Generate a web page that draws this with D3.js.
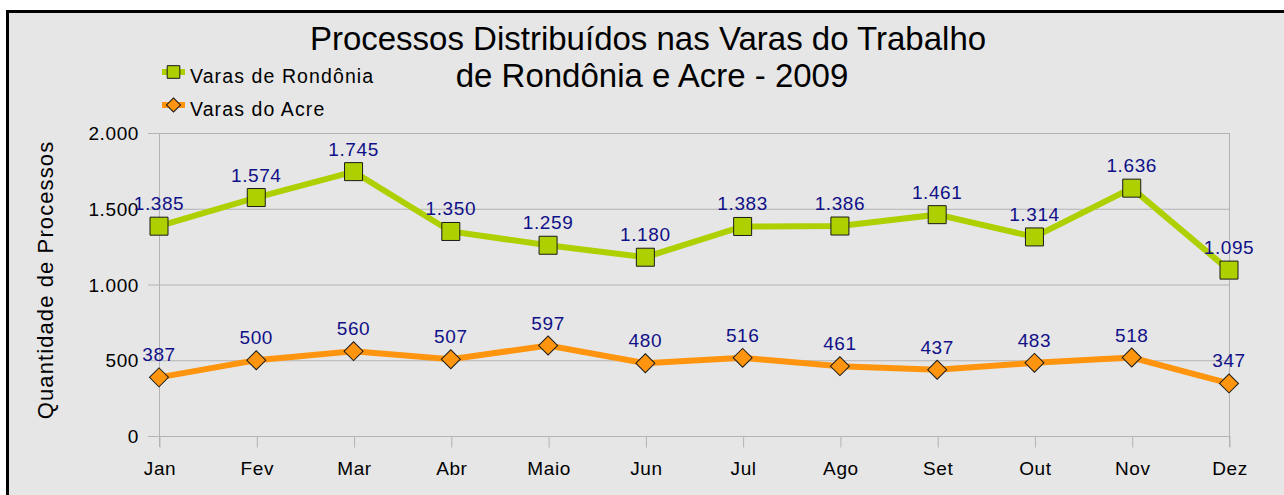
<!DOCTYPE html>
<html>
<head>
<meta charset="utf-8">
<script src="https://cdn.jsdelivr.net/npm/d3@7"></script>
<style>
  body { margin: 0; background: #fff; }
  text { font-family: "Liberation Sans", Arial, sans-serif; }
</style>
</head>
<body>
<div id="chart"></div>
<script>
const months = ["Jan", "Fev", "Mar", "Abr", "Maio", "Jun", "Jul", "Ago", "Set", "Out", "Nov", "Dez"];
const rondonia = [1385, 1574, 1745, 1350, 1259, 1180, 1383, 1386, 1461, 1314, 1636, 1095];
const acre = [387, 500, 560, 507, 597, 480, 516, 461, 437, 483, 518, 347];
const yTicks = [0, 500, 1000, 1500, 2000];
const seriesNames = ["Varas de Rondônia", "Varas do Acre"];

const width = 1284, height = 495;
const fmt = d3.formatLocale({ decimal: ",", thousands: ".", grouping: [3] }).format(",d");

const svg = d3.select("#chart").append("svg")
    .attr("width", width)
    .attr("height", height);

// chart background + frame (only top / left edge visible)
svg.append("rect")
    .attr("x", 7.5).attr("y", 11.5)
    .attr("width", width + 10).attr("height", height + 10)
    .attr("fill", "#e6e6e6")
    .attr("stroke", "#000")
    .attr("stroke-width", 3);

const x = d3.scalePoint().domain(months).range([159, 1229]);
const y = d3.scaleLinear().domain([0, 2000]).range([436, 133]);

// gridlines
svg.append("g")
    .selectAll("line")
    .data(yTicks)
    .enter().append("line")
    .attr("x1", 148).attr("x2", 1229)
    .attr("y1", d => y(d) + 0.5).attr("y2", d => y(d) + 0.5)
    .attr("stroke", "#b3b3b3");

// y axis labels
svg.append("g")
    .selectAll("text")
    .data(yTicks)
    .enter().append("text")
    .attr("x", 139)
    .attr("y", d => y(d) + 7)
    .attr("text-anchor", "end")
    .style("font-size", "19px")
    .style("letter-spacing", "0.6px")
    .attr("fill", "#000")
    .text(d => fmt(d));

// plot frame sides
svg.append("line")
    .attr("x1", 159.5).attr("x2", 159.5).attr("y1", 133).attr("y2", 447)
    .attr("stroke", "#b3b3b3");
svg.append("line")
    .attr("x1", 1229.5).attr("x2", 1229.5).attr("y1", 133).attr("y2", 447)
    .attr("stroke", "#b3b3b3");

// x axis
const xAxis = svg.append("g")
    .attr("transform", "translate(0.5," + (y(0) + 0.5) + ")")
    .call(d3.axisBottom(x).tickSize(11).tickPadding(14));
xAxis.select(".domain").remove();
xAxis.selectAll(".tick line").attr("stroke", "#b3b3b3");
xAxis.selectAll(".tick text")
    .attr("fill", "#000")
    .style("font-size", "19px")
    .style("letter-spacing", "0.6px")
    .style("font-family", "'Liberation Sans', Arial, sans-serif");

// y axis title
svg.append("text")
    .attr("transform", "translate(53,280) rotate(-90)")
    .attr("text-anchor", "middle")
    .style("font-size", "22px")
    .style("letter-spacing", "1.1px")
    .attr("fill", "#000")
    .text("Quantidade de Processos");

// title
const title = svg.append("text")
    .attr("text-anchor", "middle")
    .style("font-size", "33px")
    .attr("fill", "#000");
title.append("tspan").attr("x", 648).attr("y", 50).text("Processos Distribuídos nas Varas do Trabalho");
title.append("tspan").attr("x", 652).attr("y", 87).text("de Rondônia e Acre - 2009");

const line = d3.line()
    .x((d, i) => x(months[i]))
    .y(d => y(d));

const series = [
    { name: seriesNames[0], values: rondonia, color: "#aecf00", rot: 0, size: 324, legendSize: 160 },
    { name: seriesNames[1], values: acre, color: "#ff950e", rot: 45, size: 180, legendSize: 100 }
];

series.forEach(s => {
    svg.append("path")
        .datum(s.values)
        .attr("d", line)
        .attr("fill", "none")
        .attr("stroke", s.color)
        .attr("stroke-width", 6)
        .attr("stroke-linejoin", "miter");
});

series.forEach(s => {
    svg.append("g")
        .selectAll("path")
        .data(s.values)
        .enter().append("path")
        .attr("transform", (d, i) => "translate(" + x(months[i]) + "," + y(d) + ") rotate(" + s.rot + ")")
        .attr("d", d3.symbol().type(d3.symbolSquare).size(s.size))
        .attr("fill", s.color)
        .attr("stroke", "#1a1a1a")
        .attr("stroke-width", 1);

    svg.append("g")
        .selectAll("text")
        .data(s.values)
        .enter().append("text")
        .attr("x", (d, i) => x(months[i]))
        .attr("y", d => y(d) - 16)
        .attr("text-anchor", "middle")
        .style("font-size", "19px")
        .style("letter-spacing", "0.6px")
        .attr("fill", "#101088")
        .text(d => fmt(d));
});

// legend
const legend = svg.append("g");
series.forEach((s, i) => {
    const ly = 72 + i * 33;
    legend.append("line")
        .attr("x1", 162).attr("x2", 185)
        .attr("y1", ly).attr("y2", ly)
        .attr("stroke", s.color)
        .attr("stroke-width", 6);
    legend.append("path")
        .attr("transform", "translate(173.5," + ly + ") rotate(" + s.rot + ")")
        .attr("d", d3.symbol().type(d3.symbolSquare).size(s.legendSize))
        .attr("fill", s.color)
        .attr("stroke", "#1a1a1a")
        .attr("stroke-width", 1);
    legend.append("text")
        .attr("x", 190)
        .attr("y", ly + 11)
        .style("font-size", "19.5px")
        .style("letter-spacing", "1.1px")
        .attr("fill", "#000")
        .text(s.name);
});
</script>
</body>
</html>
